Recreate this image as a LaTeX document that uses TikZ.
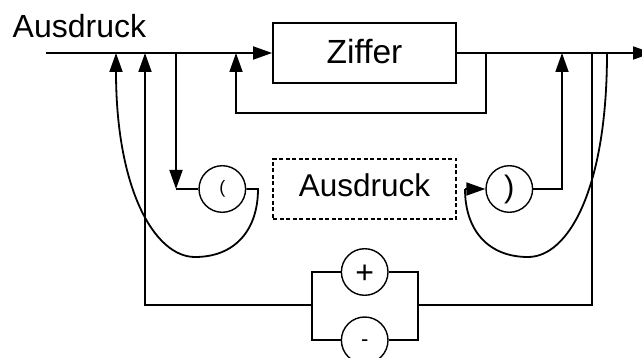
\documentclass[tikz,border=0pt]{standalone}
\usepackage{fontspec}
\setmainfont{Liberation Sans}
\usetikzlibrary{arrows.meta}
\begin{document}
\begin{tikzpicture}[x=1pt,y=-1pt,
  line/.style={line width=1.8pt},
  arr/.style={line width=1.8pt,-{Triangle[length=19pt,width=13pt]}},
  boxnode/.style={draw,line width=1.8pt,minimum width=183pt,minimum height=60pt,inner sep=0pt,font=\fontsize{33.5}{36}\selectfont,text height=24pt,text depth=3pt},
  dbox/.style={draw,dash pattern=on 4pt off 2.5pt,line width=1.4pt,minimum width=183pt,minimum height=60pt,inner sep=0pt,font=\fontsize{31.5}{36}\selectfont,text height=22.5pt,text depth=7pt},
  term/.style={draw,circle,line width=1.4pt,minimum size=46.6pt,inner sep=0pt},
  lbl/.style={inner sep=0pt,font=\fontsize{32}{36}\selectfont}
]
\useasboundingbox (0,0) rectangle (642,358);

% nodes
\node[lbl,anchor=base west] (title) at (12.5,37.3) {Ausdruck};
\node[boxnode] (zif) at (364.5,53) {Ziffer};
\node[dbox] (expr) at (364.5,189) {Ausdruck};
\node[term,font=\fontsize{18}{20}\selectfont] (lp) at (222.3,189) {(};
\node[term,font=\fontsize{31}{34}\selectfont] (rp) at (509.3,189) {)};
\node[term,font=\fontsize{32}{34}\selectfont,text height=22pt,text depth=0pt] (plus) at (364.7,272) {+};
\node[term,font=\fontsize{22}{24}\selectfont,text height=12pt,text depth=0pt] (minus) at (364.7,340.3) {-};

% coordinates
\coordinate (start) at (46,53);
\coordinate (end) at (652,53);
\coordinate (jA) at (116,53);
\coordinate (jB) at (145,53);
\coordinate (jC) at (176,53);
\coordinate (jD) at (236,53);
\coordinate (jE) at (486,53);
\coordinate (jF) at (562,53);
\coordinate (jG) at (592,53);
\coordinate (jH) at (607,53);
\coordinate (cC) at (176,189);
\coordinate (lpo) at (258,189);
\coordinate (lbot) at (195,257);
\coordinate (zl1) at (486,113);
\coordinate (zl2) at (236,113);
\coordinate (bl) at (311.7,305);
\coordinate (blt) at (311.7,272);
\coordinate (blb) at (311.7,340.3);
\coordinate (br) at (417.7,305);
\coordinate (brt) at (417.7,272);
\coordinate (brb) at (417.7,340.3);
\coordinate (sl) at (145,305);
\coordinate (sr) at (592,305);
\coordinate (rpo) at (562,189);
\coordinate (rpi) at (465,189);
\coordinate (rbot) at (528,257);

% main line
\draw[arr] (start) -- (zif.west);
\draw[arr] (zif.east) -- (end);
% loop under Ziffer
\draw[arr] (jE) -- (zl1) -- (zl2) -- (jD);
% branch to (
\draw[arr] (jC) -- (cC);
\draw[line] (cC) -- (lp.west);
\draw[arr] (lp.east) -- (lpo) .. controls (258,230) and (235,257) .. (lbot)
  .. controls (155,257) and (116,190) .. (jA);
% + / - branch
\draw[line] (plus.west) -- (blt) -- (blb) -- (minus.west);
\draw[line] (plus.east) -- (brt) -- (brb) -- (minus.east);
\draw[arr] (bl) -- (sl) -- (jB);
\draw[line] (br) -- (sr) -- (jG);
% ) branch
\draw[arr] (rp.east) -- (rpo) -- (jF);
\draw[line] (jH) .. controls (607,190) and (568,257) .. (rbot)
  .. controls (488,257) and (465,230) .. (rpi);
\draw[arr] (rpi) -- (rp.west);
\end{tikzpicture}
\end{document}
